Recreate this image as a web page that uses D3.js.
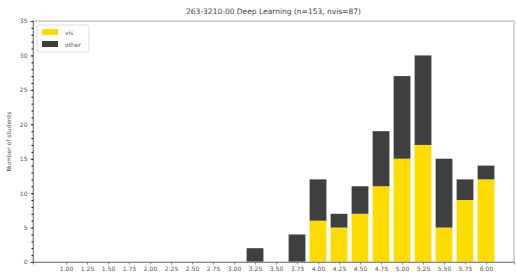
<!DOCTYPE html>
<html lang="en">
<head>
<meta charset="utf-8">
<script src="https://cdn.jsdelivr.net/npm/d3@7"></script>
<style>
  body { margin:0; background:#fff; font-family:"DejaVu Sans", sans-serif; }
  svg { display:block; }
</style>
</head>
<body>
<script>
// grade bins and student counts per bin
var grades = [1.00,1.25,1.50,1.75,2.00,2.25,2.50,2.75,3.00,3.25,3.50,3.75,4.00,4.25,4.50,4.75,5.00,5.25,5.50,5.75,6.00];
var visCounts   = [0,0,0,0,0,0,0,0,0,0,0,0,6,5,7,11,15,17,5,9,12];
var otherCounts = [0,0,0,0,0,0,0,0,0,2,0,4,6,2,4,8,12,13,10,3,2];
var yTicks = [0,5,10,15,20,25,30,35];
var seriesNames = ["vis","other"];
var colors = {vis:"#ffdc00", other:"#3f3f3f"};

var W = 516, H = 278;
var m = {left:33, right:2, top:21, bottom:16};

var svg = d3.select("body").append("svg").attr("width", W).attr("height", H);

var x = d3.scaleLinear().domain([0.607, 6.333]).range([m.left, W - m.right]);
var y = d3.scaleLinear().domain([0, 35]).range([H - m.bottom, m.top]);

var rows = grades.map(function(g, i){ return {grade:g, vis:visCounts[i], other:otherCounts[i]}; });
var stacked = d3.stack().keys(seriesNames)(rows);

// bars
svg.append("g").selectAll("g")
  .data(stacked).enter().append("g")
  .attr("fill", function(d){ return colors[d.key]; })
  .selectAll("rect")
  .data(function(d){ return d; }).enter()
  .filter(function(d){ return d[1] > d[0]; })
  .append("rect")
  .attr("x", function(d){ return x(d.data.grade - 0.1); })
  .attr("width", function(d){ return x(d.data.grade + 0.1) - x(d.data.grade - 0.1); })
  .attr("y", function(d){ return y(d[1]); })
  .attr("height", function(d){ return y(d[0]) - y(d[1]); });

// frame
svg.append("rect")
  .attr("x", m.left).attr("y", m.top)
  .attr("width", W - m.right - m.left).attr("height", H - m.bottom - m.top)
  .attr("fill", "none").attr("stroke", "#aaa").attr("stroke-width", 1);

// axes
var xAxis = svg.append("g")
  .attr("transform", "translate(0," + (H - m.bottom) + ")")
  .call(d3.axisBottom(x).tickValues(grades).tickFormat(d3.format(".2f")).tickSize(2.5).tickPadding(2));
var yAxis = svg.append("g")
  .attr("transform", "translate(" + m.left + ",0)")
  .call(d3.axisLeft(y).tickValues(yTicks).tickSize(2.5).tickPadding(3));
// minor ticks on y
svg.append("g")
  .attr("transform", "translate(" + m.left + ",0)")
  .call(d3.axisLeft(y).tickValues(d3.range(0, 36, 1)).tickSize(1.5).tickFormat(""))
  .select(".domain").remove();

[xAxis, yAxis].forEach(function(a){
  a.selectAll("text").attr("font-size", 6).attr("fill", "#555").attr("font-family", "DejaVu Sans");
  a.select(".domain").attr("stroke", "#888");
  a.selectAll(".tick line").attr("stroke", "#888");
});

// title and y label
svg.append("text")
  .attr("x", (m.left + W - m.right) / 2).attr("y", 14)
  .attr("text-anchor", "middle").attr("font-size", 7.5).attr("fill", "#444")
  .text("263-3210-00 Deep Learning (n=153, nvis=87)");
svg.append("text")
  .attr("transform", "translate(11," + ((m.top + H - m.bottom) / 2) + ") rotate(-90)")
  .attr("text-anchor", "middle").attr("font-size", 6).attr("fill", "#555")
  .text("Number of students");

// legend
var lg = svg.append("g").attr("transform", "translate(37,25)");
lg.append("rect").attr("width", 52).attr("height", 27).attr("rx", 2)
  .attr("fill", "#fff").attr("stroke", "#ddd");
seriesNames.forEach(function(k, i){
  lg.append("rect").attr("x", 5).attr("y", 4 + i * 12).attr("width", 16).attr("height", 6).attr("fill", colors[k]);
  lg.append("text").attr("x", 28).attr("y", 9.5 + i * 12).attr("font-size", 6).attr("fill", "#555").text(k);
});
</script>
</body>
</html>
